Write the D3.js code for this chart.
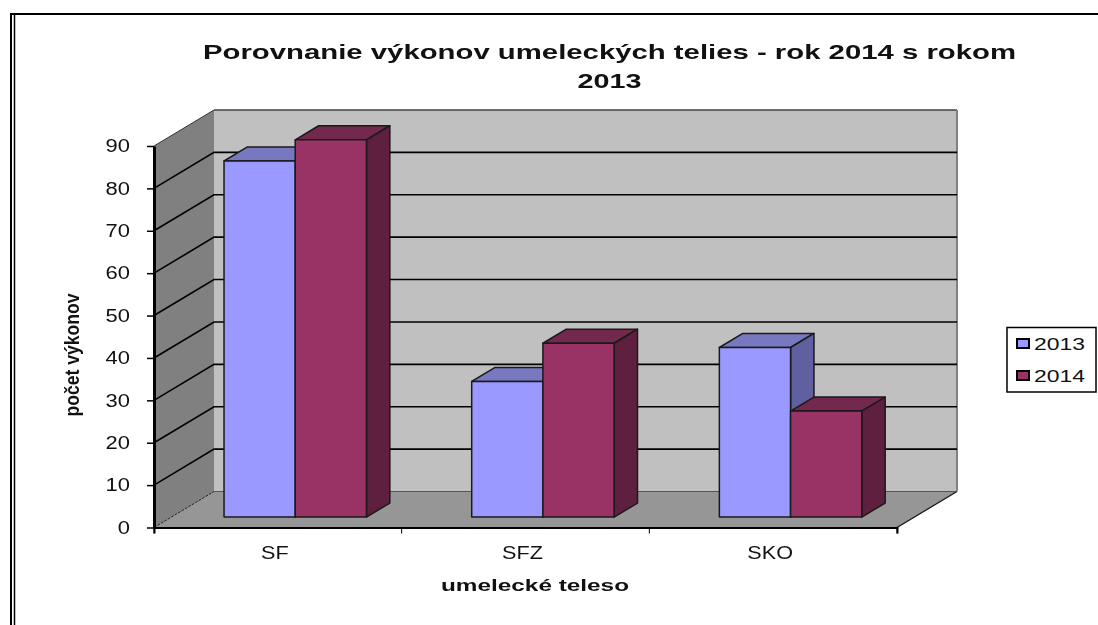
<!DOCTYPE html>
<html><head><meta charset="utf-8">
<script src="https://cdnjs.cloudflare.com/ajax/libs/d3/7.8.5/d3.min.js"></script>
<style>html,body{margin:0;padding:0;background:#fff}svg{display:block;filter:blur(0.4px)}text{font-family:"Liberation Sans",Arial,sans-serif;fill:#111}</style>
</head><body><svg id="c" width="1098" height="625"></svg>
<script>
const categories = ["SF","SFZ","SKO"];
const seriesNames = ["2013","2014"];
const values2013 = [84,32,40];
const values2014 = [89,41,25];
const yTicks = [0,10,20,30,40,50,60,70,80,90];
const titleLines = ["Porovnanie výkonov umeleckých telies - rok 2014 s rokom","2013"];
const yTitle = "počet výkonov";
const xTitle = "umelecké teleso";
const faceColors = {"2013":["#9999FF","#7878C0","#6060A0"],"2014":["#993366","#73284D","#5F1F3F"]};

const svg = d3.select("#c");
const y = d3.scaleLinear().domain([0,90]).range([527.5,146]);
const x = d3.scaleBand().domain(categories).range([154,897]);
const dx=60, dy=-36, d0=0.29, d1=0.68;
const inner = d3.scaleBand().domain(seriesNames).range([0.2125,0.7875]);
const P=(px,v,d)=>[px+dx*d,y(v)+dy*d];
const poly=(pts,fill,stroke,sw)=>svg.append("path").attr("d",d3.line()(pts)+"Z").attr("fill",fill).attr("stroke",stroke||"none").attr("stroke-width",sw||0).attr("stroke-linejoin","round");
const X0=154,X1=897;

// frame
svg.append("path").attr("d","M11,625V14H1098").attr("fill","none").attr("stroke","#000").attr("stroke-width",2);
svg.append("path").attr("d","M14.5,625V15").attr("fill","none").attr("stroke","#000").attr("stroke-width",1.5);

// walls
poly([P(X0,0,1),P(X1,0,1),P(X1,90,1),P(X0,90,1)],"#C0C0C0");
svg.append("path").attr("d",d3.line()([P(X0,90,1),P(X1,90,1)])).attr("fill","none").attr("stroke","#444").attr("stroke-width",1.5);
svg.append("path").attr("d",d3.line()([P(X1,90,1),P(X1,0,1)])).attr("fill","none").attr("stroke","#808080").attr("stroke-width",2);
poly([P(X0,0,0),P(X0,0,1),P(X0,90,1),P(X0,90,0)],"#808080");
poly([P(X0,0,0),P(X1,0,0),P(X1,0,1),P(X0,0,1)],"#969696");
svg.append("path").attr("d",d3.line()([P(X1,0,0),P(X1,0,1)])).attr("fill","none").attr("stroke","#111").attr("stroke-width",1.2);
svg.append("path").attr("d",d3.line()([P(X1,0,1),P(X0,0,1)])).attr("fill","none").attr("stroke","#555").attr("stroke-width",1.2);
svg.append("path").attr("d",d3.line()([P(X0,0,0),P(X0,0,1)])).attr("fill","none").attr("stroke","#222").attr("stroke-width",1).attr("stroke-dasharray","3 1");
svg.append("path").attr("d",d3.line()([P(X0,90,0),P(X0,90,1)])).attr("fill","none").attr("stroke","#333").attr("stroke-width",1);

// gridlines
yTicks.filter(t=>t>0&&t<90).forEach(t=>{
  svg.append("path").attr("d",d3.line()([P(X0,t,0),P(X0,t,1),P(X1,t,1)]))
    .attr("fill","none").attr("stroke","#000").attr("stroke-width",1.6);
});

// bars
const seriesData=[values2013,values2014];
categories.forEach((c,i)=>{
  seriesNames.forEach((s,j)=>{
    const v=seriesData[j][i], [f,t,sd]=faceColors[s];
    const a=x(c)+inner(s)*x.bandwidth(), b=a+inner.bandwidth()*x.bandwidth();
    const st="#1a1a1a";
    poly([P(a,v,d0),P(b,v,d0),P(b,v,d1),P(a,v,d1)],t,st,1.5);
    poly([P(b,0,d0),P(b,0,d1),P(b,v,d1),P(b,v,d0)],sd,st,1.5);
    poly([P(a,0,d0),P(b,0,d0),P(b,v,d0),P(a,v,d0)],f,st,1.5);
  });
});

// axes
const yAxis=svg.append("g").attr("transform",`translate(${X0},0)`).call(d3.axisLeft(y).tickValues(yTicks).tickSize(7).tickPadding(17).tickSizeOuter(0));
yAxis.selectAll("path.domain").attr("stroke","#000").attr("stroke-width",3);
yAxis.selectAll("line").attr("stroke","#000").attr("stroke-width",1.5);
yAxis.selectAll("text").attr("font-size",18).attr("font-family",null).each(function(){
  const n=this.getComputedTextLength(); d3.select(this).attr("textLength",n*1.22).attr("lengthAdjust","spacingAndGlyphs");
});
const xAxis=svg.append("g").attr("transform",`translate(0,${y(0)})`).call(d3.axisBottom(x).tickSize(6).tickPadding(13).tickSizeOuter(6));
xAxis.selectAll("path.domain").attr("stroke","#000").attr("stroke-width",2);
xAxis.selectAll(".tick line").attr("stroke","#000").attr("stroke-width",1).attr("x1",-x.bandwidth()/2).attr("x2",-x.bandwidth()/2);
xAxis.selectAll("text").attr("font-size",18).attr("font-family",null).attr("dx",-3).each(function(){
  const n=this.getComputedTextLength(); d3.select(this).attr("textLength",n*1.2).attr("lengthAdjust","spacingAndGlyphs");
});
svg.append("line").attr("x1",X1).attr("x2",X1).attr("y1",y(0)).attr("y2",y(0)+6).attr("stroke","#000");

// titles
const T=(t,px,py,size,len,w,rot)=>{
  const e=svg.append("text").text(t).attr("font-size",size).attr("font-weight",w).attr("text-anchor","middle");
  e.attr("textLength",len).attr("lengthAdjust","spacingAndGlyphs");
  e.attr("transform",`translate(${px},${py})`+(rot?` rotate(${rot})`:""));
  return e;
};
T(titleLines[0],609.5,59,21,813,"bold");
T(titleLines[1],609.5,88,21,64,"bold");
T(yTitle,79,355,21,123,"bold",-90);
T(xTitle,535,591,16,188,"bold");

// legend
svg.append("rect").attr("x",1007).attr("y",327.5).attr("width",89).attr("height",64.5).attr("fill","#fff").attr("stroke","#000").attr("stroke-width",1.5);
seriesNames.forEach((s,i)=>{
  const yy=343+i*32;
  svg.append("rect").attr("x",1017).attr("y",yy-4).attr("width",12).attr("height",9).attr("fill",faceColors[s][0]).attr("stroke","#000").attr("stroke-width",2);
  svg.append("text").text(s).attr("x",1034).attr("y",yy+7).attr("font-size",17).attr("textLength",51).attr("lengthAdjust","spacingAndGlyphs");
});
</script></body></html>
